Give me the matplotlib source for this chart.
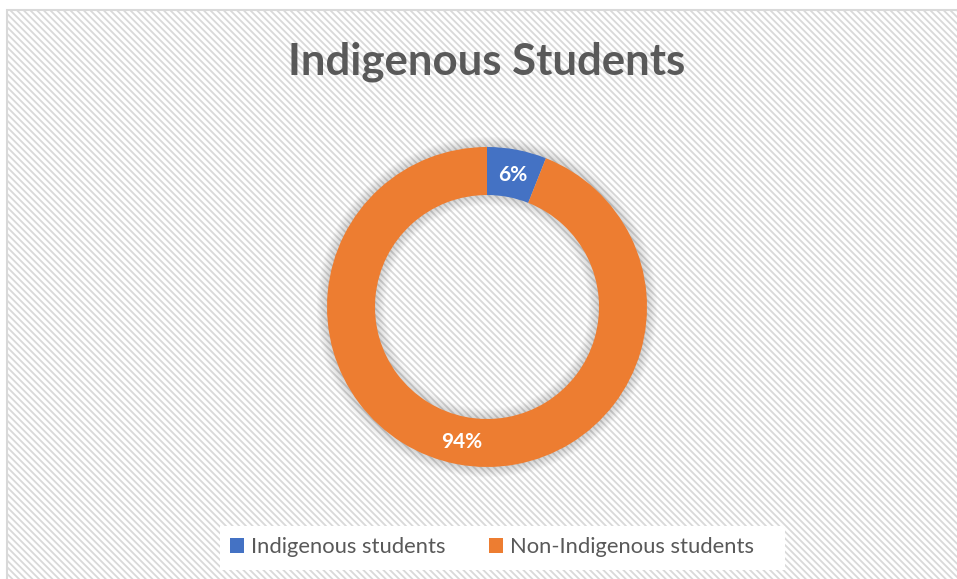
import matplotlib
matplotlib.use("Agg")
import matplotlib.pyplot as plt
from matplotlib.patches import Rectangle, Wedge

categories = ["Indigenous students", "Non-Indigenous students"]
values = [6, 94]
labels = ["6%", "94%"]
colors = ["#4472C4", "#ED7D31"]
title = "Indigenous Students"

W, H = 957, 579
fig = plt.figure(figsize=(W / 100, H / 100), dpi=100)
fig.patch.set_facecolor("white")

# chart area background with diagonal hatch
plt.rcParams["hatch.color"] = "#f5f5f5"
plt.rcParams["hatch.linewidth"] = 1.3
bg = Rectangle((6.5 / W, -0.01), 1.1, 1 - 9.5 / H + 0.01, transform=fig.transFigure,
               facecolor="white", edgecolor="#d9d9d9", linewidth=1.5, hatch="\\\\\\\\\\",
               zorder=-5)
fig.patches.append(bg)

cx, cy, R = 487, 307, 160
half = 175
ax = fig.add_axes([(cx - half) / W, (H - cy - half) / H, 2 * half / W, 2 * half / H])
ax.set_zorder(2)

width = 48 / R
# soft shadow around ring
for i in range(8):
    d = 0.008 * (i + 1)
    ax.add_patch(Wedge((0, 0), 1 + d, 0, 360, width=width + 2 * d,
                       facecolor="#000000", alpha=0.02, edgecolor="none", zorder=1))

wedges, _ = ax.pie(values, colors=colors, startangle=90, counterclock=False, radius=1,
                   wedgeprops=dict(width=width, edgecolor="none"))
for w in wedges:
    w.set_zorder(3)

ax.set_xlim(-half / R, half / R)
ax.set_ylim(-half / R, half / R)
ax.set_aspect("equal")
ax.axis("off")
ax.patch.set_alpha(0)

label_pos = [(513, 175), (462, 442)]
for (px, py), lab in zip(label_pos, labels):
    ax.text((px - cx) / R, (cy - py) / R, lab, ha="center", va="center",
            color="white", fontsize=15, fontweight="bold", family="Lato", zorder=4)

fig.text(487 / W, 1 - 62 / H, title, ha="center", va="center", fontsize=31.5,
         fontweight="bold", color="#595959", family="Lato")

# legend
leg_bg = Rectangle((220 / W, 1 - 570 / H), 565 / W, 44 / H, transform=fig.transFigure,
                   facecolor="white", edgecolor="none", zorder=1)
fig.patches.append(leg_bg)
handles = [Rectangle((0, 0), 1, 1, facecolor=c, edgecolor="none") for c in colors]
leg = fig.legend(handles, categories, loc="center", bbox_to_anchor=(492 / W, 1 - 547 / H),
                 ncol=2, frameon=False, prop=dict(family="Lato", size=15.8),
                 handlelength=0.65, handleheight=0.65, handletextpad=0.3, columnspacing=2.0)
leg.set_zorder(3)
for t in leg.get_texts():
    t.set_color("#595959")

fig.savefig("out.png", dpi=100)
